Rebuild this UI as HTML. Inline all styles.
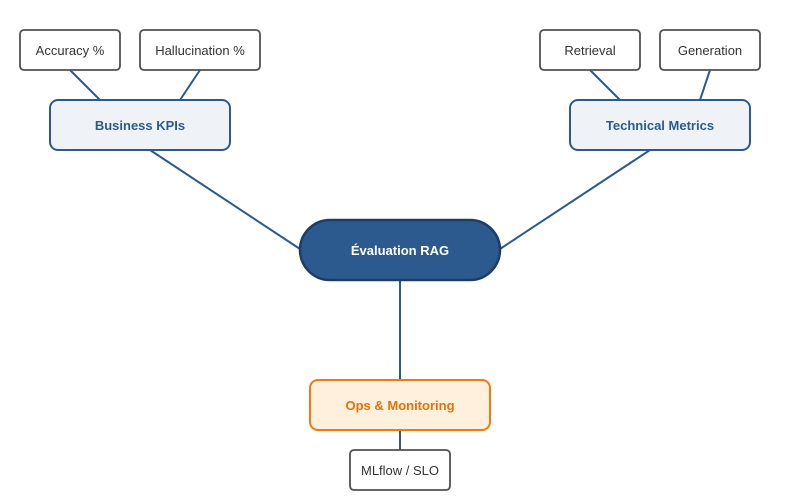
<!DOCTYPE html>
<html><head><meta charset="utf-8"><style>
html,body{margin:0;padding:0;background:#fff;}
svg{display:block;}
text{font-family:"Liberation Sans","DejaVu Sans",sans-serif;}
</style></head><body>
<svg width="800" height="500" viewBox="0 0 800 500" xmlns="http://www.w3.org/2000/svg">
<g stroke="#2d5a8e" stroke-width="2" fill="none">
<line x1="70" y1="70" x2="100" y2="100"/>
<line x1="200" y1="70" x2="180" y2="100"/>
<line x1="590" y1="70" x2="620" y2="100"/>
<line x1="710" y1="70" x2="700" y2="100"/>
<line x1="150" y1="150" x2="300" y2="249"/>
<line x1="650" y1="150" x2="500" y2="249"/>
<line x1="400" y1="280" x2="400" y2="380"/>
<line x1="400" y1="430" x2="400" y2="450"/>
</g>
<g stroke="#505050" stroke-width="1.8" fill="#fff">
<rect x="20" y="30" width="100" height="40" rx="4"/>
<rect x="140" y="30" width="120" height="40" rx="4"/>
<rect x="540" y="30" width="100" height="40" rx="4"/>
<rect x="660" y="30" width="100" height="40" rx="4"/>
<rect x="350" y="450" width="100" height="40" rx="4"/>
</g>
<g stroke="#2d5a8e" stroke-width="2" fill="#eff3f8">
<rect x="50" y="100" width="180" height="50" rx="8"/>
<rect x="570" y="100" width="180" height="50" rx="8"/>
</g>
<rect x="310" y="380" width="180" height="50" rx="8" fill="#fff0dd" stroke="#f07a10" stroke-width="2"/>
<rect x="300" y="220" width="200" height="60" rx="30" fill="#2d5a8e" stroke="#1e3d64" stroke-width="2.5"/>
<g font-size="13" fill="#333" text-anchor="middle">
<text x="70" y="55">Accuracy %</text>
<text x="200" y="55">Hallucination %</text>
<text x="590" y="55">Retrieval</text>
<text x="710" y="55">Generation</text>
<text x="400" y="475">MLflow / SLO</text>
</g>
<g font-size="13" font-weight="bold" text-anchor="middle">
<text x="140" y="130" fill="#2d5a8e">Business KPIs</text>
<text x="660" y="130" fill="#2d5a8e">Technical Metrics</text>
<text x="400" y="410" fill="#e8710a">Ops &amp; Monitoring</text>
<text x="400" y="255" fill="#fff">Évaluation RAG</text>
</g>
</svg>
</body></html>
